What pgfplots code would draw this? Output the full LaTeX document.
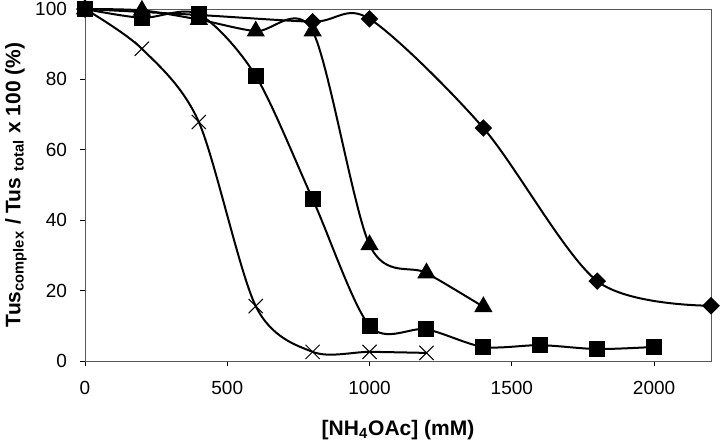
\documentclass[border=0pt]{standalone}
\usepackage{pgfplots}
\pgfplotsset{compat=1.18}
\usepackage{fontspec}
\setmainfont{Liberation Sans}
\begin{document}
\begin{tikzpicture}
\begin{axis}[
  scale only axis,
  width=313pt, height=176pt,
  xmin=0, xmax=2200, ymin=0, ymax=100,
  xtick={0,500,1000,1500,2000},
  ytick={0,20,40,60,80,100},
  tick align=outside,
  xtick pos=left, ytick pos=left,
  major tick length=2.5pt,
  tick style={black, line width=0.4pt},
  axis line style={black!65, line width=0.5pt},
  /pgf/number format/assume math mode=true,
  /pgf/number format/1000 sep={},
  ticklabel style={font=\fontsize{9.5}{11}\selectfont},
  xticklabel style={yshift=-4pt},
  yticklabel style={xshift=-3pt},
  clip=false,
  every axis plot/.append style={black, line width=1pt, smooth, tension=0.5},
]
% crosses
\addplot[mark=x, mark size=5pt, mark options={line width=0.5pt}] coordinates {
(0,100) (200,88.7) (400,67.9) (600,15.6) (800,2.6) (1000,2.6) (1200,2.3)};
% squares
\addplot[mark=square*, mark size=3.5pt, mark options={solid}] coordinates {
(0,100) (200,97.5) (400,98.5) (600,81) (800,46) (1000,10) (1200,9) (1400,4) (1600,4.5) (1800,3.4) (2000,4)};
% triangles
\addplot[mark=triangle*, mark size=4.3pt] coordinates {
(0,100) (200,99.6) (400,97) (600,93.7) (800,93.7) (1000,33) (1200,25) (1400,15.4)};
% diamonds
\addplot[mark=square*, mark size=2.6pt, mark options={rotate=45}] coordinates {
(0,100) (400,98.3) (800,96.4) (1000,97.2) (1400,66.2) (1800,22.7) (2200,15.7)};
\coordinate (LL) at (rel axis cs:0,0);
\coordinate (UR) at (rel axis cs:1,1);
\end{axis}
\path (LL) ++(-34.5pt,88pt) node[rotate=90, font=\fontsize{10.5}{12}\selectfont\bfseries]
  {Tus\textsubscript{complex} / Tus \textsubscript{total} x 100 (\%)};
\path (LL) ++(156.5pt,-34.5pt) node[font=\fontsize{10.5}{12}\selectfont\bfseries]
  {[NH\textsubscript{4}OAc] (mM)};
\pgfresetboundingbox
\path (LL) ++(-42.5pt,-40pt) coordinate (BB1);
\path (UR) ++(4.5pt,4.5pt) coordinate (BB2);
\path[use as bounding box] (BB1) rectangle (BB2);
\end{tikzpicture}
\end{document}
